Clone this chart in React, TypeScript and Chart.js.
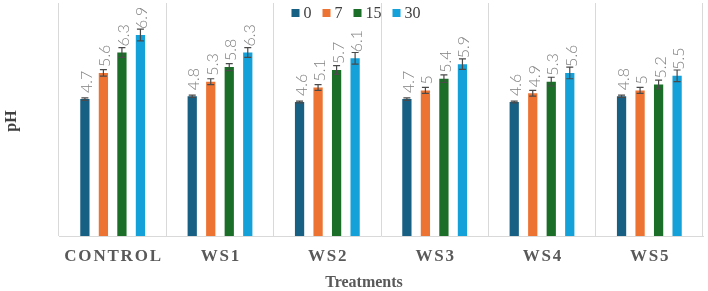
import React, { useEffect, useRef } from "react";
import { Chart, registerables } from "chart.js";

Chart.register(...registerables);

const treatments = ["CONTROL", "WS1", "WS2", "WS3", "WS4", "WS5"];
const seriesNames = ["0", "7", "15", "30"];
const seriesColors = ["#175f83", "#ec7332", "#1b6e27", "#14a0d8"];

const day0 = [4.7, 4.8, 4.6, 4.7, 4.6, 4.8];
const day7 = [5.6, 5.3, 5.1, 5.0, 4.9, 5.0];
const day15 = [6.3, 5.8, 5.7, 5.4, 5.3, 5.2];
const day30 = [6.9, 6.3, 6.1, 5.9, 5.6, 5.5];

const err0 = [0.04, 0.04, 0.03, 0.04, 0.03, 0.04];
const err7 = [0.11, 0.1, 0.1, 0.1, 0.1, 0.1];
const err15 = [0.17, 0.12, 0.15, 0.13, 0.15, 0.15];
const err30 = [0.2, 0.17, 0.2, 0.18, 0.2, 0.2];

const seriesValues = [day0, day7, day15, day30];
const seriesErrors = [err0, err7, err15, err30];

const yTitle = "pH";
const xTitle = "Treatments";

const SERIF = "'Liberation Serif', 'Times New Roman', serif";

// Error bars with caps, drawn over each bar
const errorBarPlugin = {
  id: "errorBars",
  afterDatasetsDraw(chart: any) {
    const { ctx } = chart;
    const y = chart.scales.y;
    ctx.save();
    ctx.strokeStyle = "#4a4a4a";
    ctx.lineWidth = 1.2;
    chart.data.datasets.forEach((ds: any, di: number) => {
      const meta = chart.getDatasetMeta(di);
      meta.data.forEach((bar: any, i: number) => {
        const v = ds.data[i];
        const e = ds.errors[i];
        const yTop = y.getPixelForValue(v + e);
        const yBot = y.getPixelForValue(v - e);
        const x = bar.x;
        const cap = 3.5;
        ctx.beginPath();
        ctx.moveTo(x, yTop);
        ctx.lineTo(x, yBot);
        ctx.moveTo(x - cap, yTop);
        ctx.lineTo(x + cap, yTop);
        ctx.moveTo(x - cap, yBot);
        ctx.lineTo(x + cap, yBot);
        ctx.stroke();
      });
    });
    ctx.restore();
  },
};

// Rotated value labels above the bars
const valueLabelPlugin = {
  id: "valueLabels",
  afterDatasetsDraw(chart: any) {
    const { ctx } = chart;
    ctx.save();
    ctx.fillStyle = "#808080";
    ctx.font = "300 16px Lato, 'Open Sans', sans-serif";
    ctx.textAlign = "left";
    ctx.textBaseline = "alphabetic";
    chart.data.datasets.forEach((ds: any, di: number) => {
      const meta = chart.getDatasetMeta(di);
      meta.data.forEach((bar: any, i: number) => {
        const text = String(ds.data[i]);
        ctx.save();
        ctx.translate(bar.x + 7, bar.y - 6);
        ctx.rotate(-Math.PI / 2);
        ctx.fillText(text, 0, 0);
        ctx.restore();
      });
    });
    ctx.restore();
  },
};

// Category labels, axis titles and legend
const textPlugin = {
  id: "chartTexts",
  afterDraw(chart: any) {
    const { ctx } = chart;
    const x = chart.scales.x;
    ctx.save();

    // category labels
    ctx.fillStyle = "#595959";
    ctx.font = `bold 17px ${SERIF}`;
    ctx.textAlign = "center";
    ctx.textBaseline = "middle";
    const spacing = 1.8;
    (ctx as any).letterSpacing = `${spacing}px`;
    treatments.forEach((t, i) => {
      ctx.fillText(t, x.getPixelForValue(i) + spacing / 2, 257);
    });
    (ctx as any).letterSpacing = "0px";

    // x-axis title
    ctx.font = `bold 16px ${SERIF}`;
    ctx.fillText(xTitle, 364, 283);

    // y-axis title
    ctx.save();
    ctx.fillStyle = "#404040";
    ctx.translate(12, 121);
    ctx.rotate(-Math.PI / 2);
    ctx.fillText(yTitle, 0, 0);
    ctx.restore();

    // legend
    ctx.font = `16px ${SERIF}`;
    ctx.textAlign = "left";
    const box = 8;
    const gap = 4;
    const itemGap = 11;
    const widths = seriesNames.map((n) => box + gap + ctx.measureText(n).width);
    const total = widths.reduce((a, b) => a + b, 0) + itemGap * (widths.length - 1);
    let lx = chart.width / 2 + 2 - total / 2;
    const ly = 13;
    seriesNames.forEach((n, i) => {
      ctx.fillStyle = seriesColors[i];
      ctx.fillRect(lx, ly - box / 2, box, box);
      ctx.fillStyle = "#404040";
      ctx.fillText(n, lx + box + gap, ly + 1);
      lx += widths[i] + itemGap;
    });

    ctx.restore();
  },
};

export default function App() {
  const canvasRef = useRef<HTMLCanvasElement | null>(null);

  useEffect(() => {
    const canvas = canvasRef.current;
    if (!canvas) return;
    const chart = new Chart(canvas, {
      type: "bar",
      data: {
        labels: treatments,
        datasets: seriesNames.map((name, i) => ({
          label: name,
          data: seriesValues[i],
          errors: seriesErrors[i],
          backgroundColor: seriesColors[i],
          borderWidth: 0,
          categoryPercentage: 0.69,
          barPercentage: 0.5,
        })) as any,
      },
      options: {
        responsive: false,
        animation: false,
        layout: { padding: { left: 59, right: 5, top: 3, bottom: 0 } },
        plugins: {
          legend: { display: false },
          tooltip: { enabled: false },
        },
        scales: {
          x: {
            grid: { color: "#d9d9d9", lineWidth: 1, drawTicks: false, offset: true },
            border: { display: true, color: "#d9d9d9" },
            ticks: { display: false },
            afterFit: (scale: any) => {
              scale.height = 55;
            },
          },
          y: {
            display: false,
            min: 0,
            max: 8,
          },
        },
      },
      plugins: [errorBarPlugin, valueLabelPlugin, textPlugin],
    });
    return () => chart.destroy();
  }, []);

  return (
    <div style={{ position: "absolute", left: 0, top: 0, width: 708, height: 291, background: "#fff" }}>
      <canvas ref={canvasRef} width={708} height={291} />
    </div>
  );
}
